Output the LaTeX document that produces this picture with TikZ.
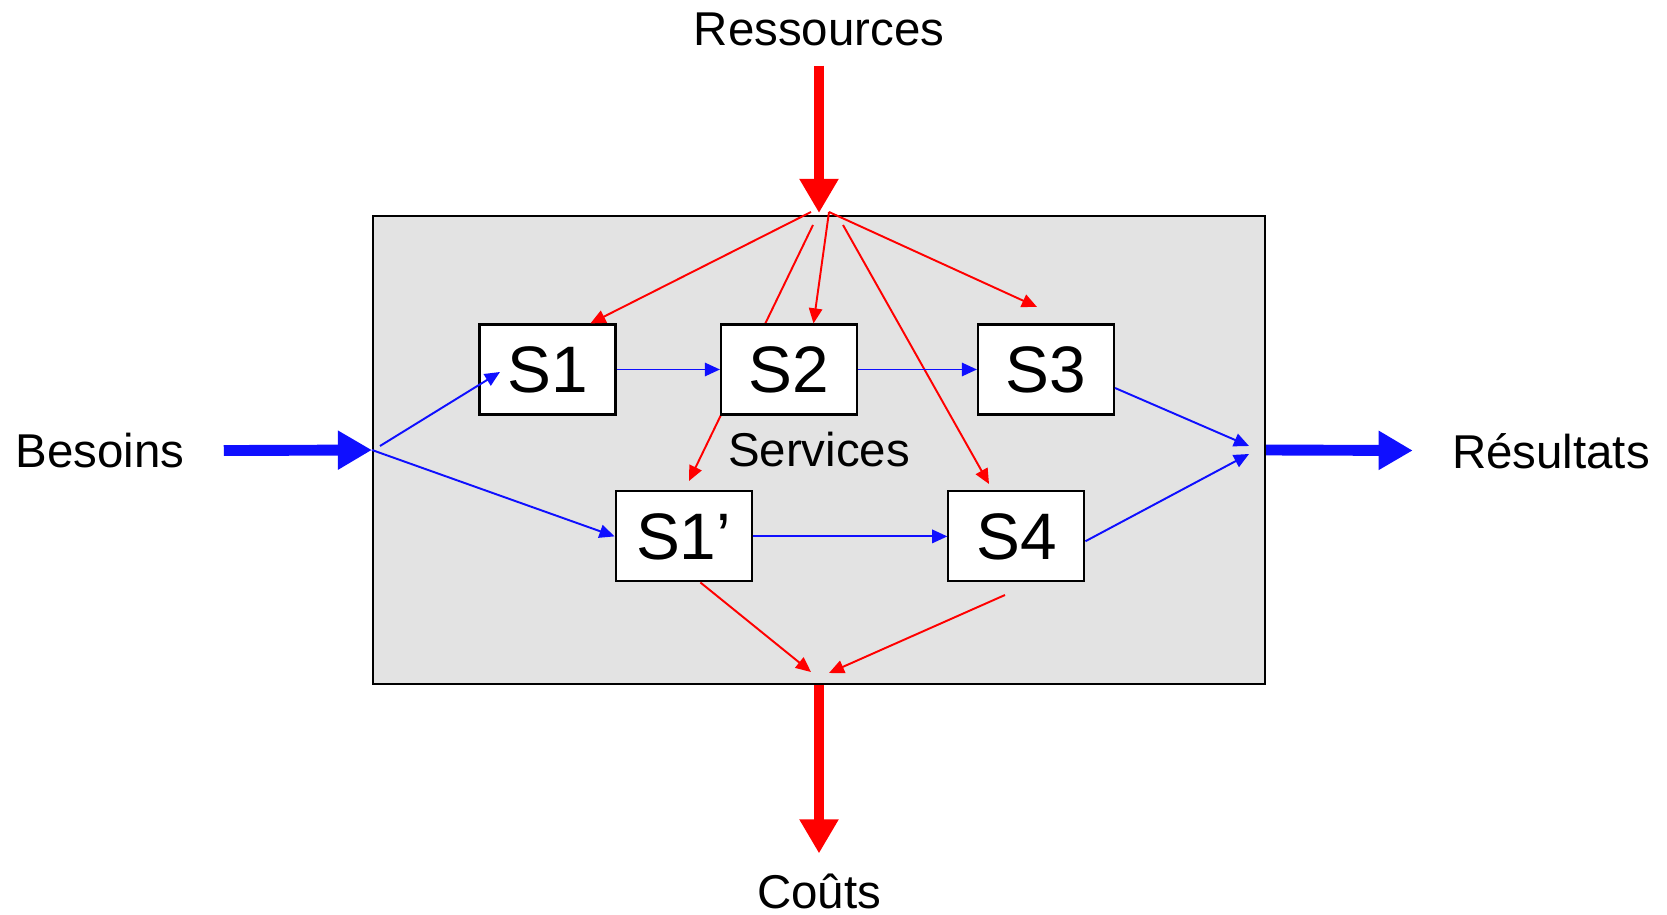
\documentclass[tikz,border=0pt]{standalone}
\usepackage{fontspec}
\setmainfont{Liberation Sans}
\usetikzlibrary{arrows.meta,calc}

\definecolor{rouge}{RGB}{255,0,0}
\definecolor{bleu}{RGB}{15,15,255}
\definecolor{gris}{RGB}{227,227,227}

\begin{document}
\begin{tikzpicture}[x=0.1mm,y=-0.1mm,
  boite/.style={draw=black, line width=0.6pt, fill=gris, minimum width=89.2mm, minimum height=46.8mm, inner sep=0pt, font=\fontsize{13.5}{15}\selectfont},
  service/.style={draw=black, line width=0.6pt, fill=white, minimum width=13.6mm, minimum height=9mm, inner sep=0pt, font=\fontsize{18.7}{20}\selectfont},
  etiquette/.style={inner xsep=11pt, inner ysep=5.5pt, font=\fontsize{13.5}{15}\selectfont},
  fin/.style={line width=0.55pt, -{Triangle[length=4.3pt,width=3.8pt]}},
  gros/.style={line width=3.1pt, -{Triangle[length=9.7pt,width=10.5pt]}}]
\useasboundingbox (0,0) rectangle (1667,915);

% le systeme et ses entrees / sorties
\node[boite] (systeme) at (819,450) {Services};
\node[etiquette] (ressources) at (819,29) {Ressources};
\node[etiquette] (couts) at (819,891) {Coûts};
\node[etiquette] (besoins) at (100,451) {Besoins};
\node[etiquette] (resultats) at (1551,451) {Résultats};
\coordinate (haut) at (819,213);

% points libres des fleches fines
\coordinate (ra) at (811,212);
\coordinate (rb) at (829,212);
\coordinate (rc) at (813,225);
\coordinate (rd) at (843,225);
\coordinate (f1) at (689,481);
\coordinate (f3) at (1037,307);
\coordinate (f4) at (989,484);
\coordinate (c4) at (1005,595);
\coordinate (ca) at (811,672);
\coordinate (cb) at (829,673);
\coordinate (b1) at (380,446);
\coordinate (e1) at (500,372);
\coordinate (r1) at (1249,446);
\coordinate (r2) at (1249,454);

% passe sous S2
\draw[fin, rouge] (rc) -- (f1);

% les services
\node[service] (s1) at (547.5,369.5) {S1};
\node[service] (s2) at (789,369.5) {S2};
\node[service] (s3) at (1046,369.5) {S3};
\node[service] (s1p) at (683.6,536.4) {S1’};
\node[service] (s4) at (1016.4,536.4) {S4};

% gros flux
\draw[gros, rouge] (ressources) -- (haut);
\draw[gros, rouge] (systeme.south) -- (couts);
\draw[gros, bleu] (besoins) -- (systeme.west);
\draw[gros, bleu] (systeme.east) -- (resultats);

% ressources vers les services
\draw[fin, rouge] (ra) -- (s1.47);
\draw[fin, rouge] (rb) -- (s2.62);
\draw[fin, rouge] (rb) -- (f3);
\draw[fin, rouge] (rd) -- (f4);

% couts
\draw[fin, rouge] (s1p.-70) -- (ca);
\draw[fin, rouge] (c4) -- (cb);

% besoins vers resultats
\draw[fin, bleu] (b1) -- (e1);
\draw[fin, bleu] (systeme.west) -- (s1p.west);
\draw[fin, bleu] (s1) -- (s2);
\draw[fin, bleu] (s2) -- (s3);
\draw[fin, bleu] (s1p) -- (s4);
\draw[fin, bleu] (s3.-15) -- (r1);
\draw[fin, bleu] (s4.-4) -- (r2);
\end{tikzpicture}
\end{document}
